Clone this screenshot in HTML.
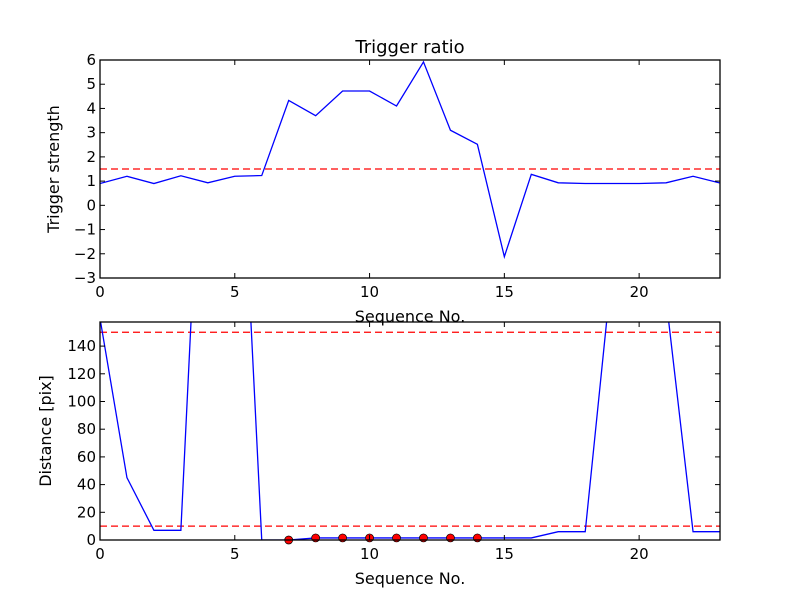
<!DOCTYPE html>
<html><head><meta charset="utf-8"><style>
html,body{margin:0;padding:0;background:#fff;}
svg{display:block;font-family:"DejaVu Sans","Liberation Sans",sans-serif;}
</style></head><body>
<svg id="c" width="800" height="600"></svg>
<script>
const seq = [0,1,2,3,4,5,6,7,8,9,10,11,12,13,14,15,16,17,18,19,20,21,22,23];
const strength = [0.9,1.2,0.9,1.22,0.93,1.2,1.23,4.33,3.7,4.72,4.72,4.1,5.92,3.1,2.52,-2.12,1.28,0.93,0.9,0.9,0.9,0.93,1.2,0.92];
const strengthThreshold = 1.5;
const distance = [160,45,7,7,407,392,0,0,1.5,1.5,1.5,1.5,1.5,1.5,1.5,1.5,1.5,6,6,197,200,174,6,6];
const markerSeq = [7,8,9,10,11,12,13,14];
const markerDist = [0,1.5,1.5,1.5,1.5,1.5,1.5,1.5];
const distThresholds = [150,10];
const topYTicks = [-3,-2,-1,0,1,2,3,4,5,6];
const topYLabels = ["\u22123","\u22122","\u22121","0","1","2","3","4","5","6"];
const xTicks = [0,5,10,15,20];
const botYTicks = [0,20,40,60,80,100,120,140];

const NS="http://www.w3.org/2000/svg";
const svg=document.getElementById('c');
function mk(t,a,p){const e=document.createElementNS(NS,t);for(const k in a)e.setAttribute(k,a[k]);(p||svg).appendChild(e);return e;}

function panel(o){
  const L=100,R=720,T=o.top,B=o.bottom;
  const sx=v=>L+(v-0)/(23-0)*(R-L);
  const sy=v=>B-(v-o.ymin)/(o.ymax-o.ymin)*(B-T);
  const g=mk('g',{});
  
  
  const cid='clip'+o.name;
  const cp=mk('clipPath',{id:cid},g);mk('rect',{x:L,y:T,width:R-L,height:B-T},cp);
  const plot=mk('g',{'clip-path':'url(#'+cid+')'},g);
  o.hlines.forEach(h=>{const l=mk('line',{x1:L,x2:R,y1:sy(h),y2:sy(h),stroke:'#ff0000','stroke-width':1.3,'stroke-dasharray':'7,4'},plot);
    
    });
  const pts=o.ys.map((v,i)=>sx(seq[i])+','+sy(v)).join(' ');
  const pl=mk('polyline',{points:pts,fill:'none',stroke:'#0000ff','stroke-width':1.3},plot);
  
  
  if(o.mx){o.mx.forEach((x,i)=>{const c=mk('circle',{cx:sx(x),cy:sy(o.my[i]),r:4,fill:'#ff0000',stroke:'#000','stroke-width':0.7},g);
    
    });}
  const fr=mk('rect',{x:L,y:T,width:R-L,height:B-T,fill:'none',stroke:'#000','stroke-width':1.3},g);
  
  
  xTicks.forEach(x=>{mk('line',{x1:sx(x),x2:sx(x),y1:B,y2:B-5,stroke:'#000'},g);mk('line',{x1:sx(x),x2:sx(x),y1:T,y2:T+5,stroke:'#000'},g);
    const t=mk('text',{x:sx(x),y:B+19,'text-anchor':'middle','font-size':15},g);t.textContent=x;
    
    });
  o.yt.forEach((y,i)=>{mk('line',{x1:L,x2:L+5,y1:sy(y),y2:sy(y),stroke:'#000'},g);mk('line',{x1:R,x2:R-5,y1:sy(y),y2:sy(y),stroke:'#000'},g);
    const t=mk('text',{x:L-4,y:sy(y)+5,'text-anchor':'end','font-size':15},g);t.textContent=o.yl[i];
    
    });
  const xl=mk('text',{x:(L+R)/2,y:B+44,'text-anchor':'middle','font-size':16},g);xl.textContent='Sequence No.';
  
  
  const yx=o.ylx,yy=(T+B)/2;
  const yl=mk('text',{x:yx,y:yy,'text-anchor':'middle','font-size':16,transform:'rotate(-90 '+yx+' '+yy+')'},g);yl.textContent=o.ytitle;
  
  
}
panel({name:'trigger-panel',top:60,bottom:278,ymin:-3,ymax:6,ys:strength,hlines:[strengthThreshold],yt:topYTicks,yl:topYLabels,ytitle:'Trigger strength',ylx:59});
panel({name:'distance-panel',top:322,bottom:540,ymin:0,ymax:157.4,ys:distance,hlines:distThresholds,yt:botYTicks,yl:botYTicks.map(String),ytitle:'Distance [pix]',ylx:51,mx:markerSeq,my:markerDist});
const ti=mk('text',{x:410,y:53,'text-anchor':'middle','font-size':18});ti.textContent='Trigger ratio';


</script>
</body></html>
